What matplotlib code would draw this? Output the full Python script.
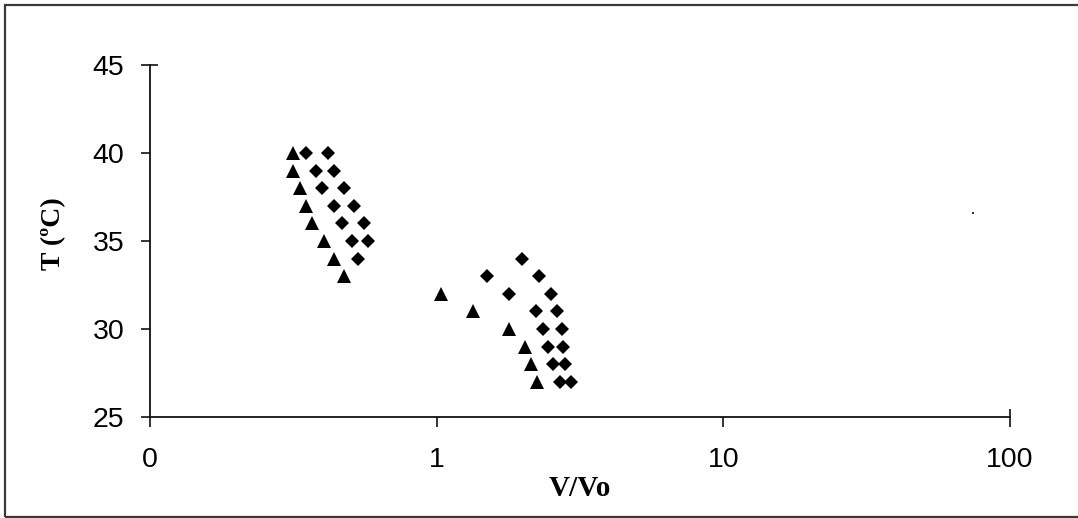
import matplotlib
matplotlib.use("Agg")
import matplotlib.pyplot as plt
from matplotlib.patches import Rectangle
from matplotlib.ticker import FixedLocator, FixedFormatter, NullFormatter

# ---- data ----
tri_x = [0.315, 0.316, 0.333, 0.350, 0.367, 0.404, 0.438, 0.474,
         1.033, 1.335, 1.782, 2.026, 2.126, 2.230]
tri_y = [40, 39, 38, 37, 36, 35, 34, 33,
         32, 31, 30, 29, 28, 27]

dia_x = [0.350, 0.417, 0.379, 0.438, 0.397, 0.474, 0.438, 0.514,
         0.467, 0.557, 0.506, 0.575, 0.530,
         1.977, 1.494, 2.266, 1.782, 2.496, 2.213, 2.619,
         2.340, 2.726, 2.436, 2.748, 2.536, 2.793, 2.683, 2.953]
dia_y = [40, 40, 39, 39, 38, 38, 37, 37,
         36, 36, 35, 35, 34,
         34, 33, 33, 32, 32, 31, 31,
         30, 30, 29, 29, 28, 28, 27, 27]

stray_x = [74.3]
stray_y = [36.6]

x_ticks = [0.1, 1, 10, 100]
x_tick_labels = ["0", "1", "10", "100"]
y_ticks = [25, 30, 35, 40, 45]

W, H = 1078, 518
fig = plt.figure(figsize=(W / 100, H / 100), dpi=100)
fig.patch.set_facecolor("white")

# outer frame
fig.patches.append(Rectangle((5 / W, 1.5 / H), 1.2, (H - 6) / H,
                             transform=fig.transFigure, fill=False,
                             edgecolor="#3a3a3a", linewidth=1.6,
                             clip_on=False))

ax = fig.add_axes([150 / W, (H - 417) / H, (1010 - 150) / W, (417 - 65) / H])

ax.plot(tri_x, tri_y, linestyle="none", marker="^", markersize=9.4,
        color="black", markeredgewidth=0, clip_on=False)
ax.plot(dia_x, dia_y, linestyle="none", marker="D", markersize=7.4,
        color="black", markeredgewidth=0, clip_on=False)
ax.plot(stray_x, stray_y, linestyle="none", marker="s", markersize=1.6,
        color="#333333", markeredgewidth=0)

ax.set_xscale("log")
ax.set_xlim(0.1, 100)
ax.set_ylim(25, 45)
ax.xaxis.set_major_locator(FixedLocator(x_ticks))
ax.xaxis.set_major_formatter(FixedFormatter(x_tick_labels))
ax.set_yticks(y_ticks)

# short inward marks at the far ends of the axes (as in the reference)
ax.xaxis.remove_overlapping_locs = False
ax.yaxis.remove_overlapping_locs = False
ax.xaxis.set_minor_locator(FixedLocator([x_ticks[-1]]))
ax.xaxis.set_minor_formatter(NullFormatter())
ax.yaxis.set_minor_locator(FixedLocator([y_ticks[-1]]))
ax.yaxis.set_minor_formatter(NullFormatter())
ax.tick_params(which="minor", direction="in", length=5.5, width=1.2,
               color="#111111")

for s in ["top", "right"]:
    ax.spines[s].set_visible(False)
for s in ["left", "bottom"]:
    ax.spines[s].set_linewidth(1.3)
    ax.spines[s].set_color("#111111")

ax.tick_params(axis="x", which="major", direction="out", length=7.5,
               width=1.2, color="#111111", pad=14)
ax.tick_params(axis="y", which="major", direction="out", length=6.5,
               width=1.2, color="#111111", pad=12)
for lab in ax.get_xticklabels() + ax.get_yticklabels():
    lab.set_fontfamily("Liberation Sans")
    lab.set_fontsize(20.5)
    lab.set_color("black")

ax.set_xlabel("V/Vo", family="Liberation Serif", fontweight="bold",
              fontsize=21)
ax.set_ylabel("T (ºC)", family="Liberation Serif", fontweight="bold",
              fontsize=20)
ax.xaxis.set_label_coords(0.5, -0.165)
ax.yaxis.set_label_coords(-0.097, 0.52)

fig.savefig("out.png", dpi=100, facecolor="white")
